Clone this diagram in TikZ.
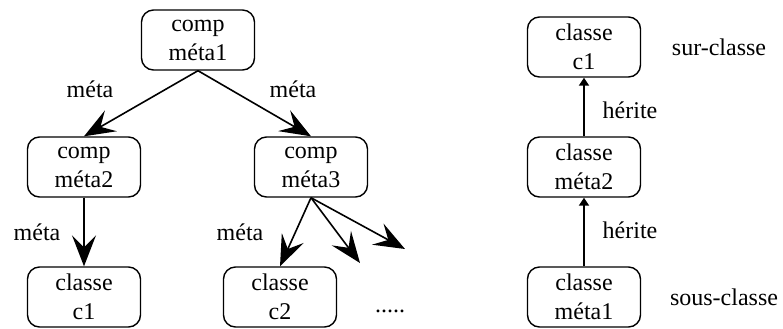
\documentclass[tikz,border=0pt]{standalone}
\usepackage{fontspec}
\setmainfont{Liberation Serif}
\usetikzlibrary{arrows.meta}
\begin{document}
\begin{tikzpicture}[x=0.5pt,y=-0.5pt,
  box/.style={draw,line width=0.7pt,rounded corners=6pt,minimum width=56.5pt,minimum height=30pt,align=center,inner sep=0pt,font=\fontsize{12}{14.5}\selectfont},
  lbl/.style={font=\fontsize{12}{14.5}\selectfont,inner sep=0pt},
  bigarrow/.style={line width=0.8pt,-{Stealth[length=15.5pt,width=12pt,inset=6pt]}},
  smallarrow/.style={line width=1pt,-{Triangle[length=4pt,width=5pt]}}]
\useasboundingbox (0,0) rectangle (783,328);
% left tree
\node[box] (m1) at (198,40) {comp\\méta1};
\node[box] (m2) at (84,167) {comp\\méta2};
\node[box] (m3) at (311,167) {comp\\méta3};
\node[box] (c1) at (84,297) {classe\\c1};
\node[box] (c2) at (280,297) {classe\\c2};
\node[lbl,anchor=base] (dots) at (390,312) {.....};
\coordinate (e2) at (360,263);
\coordinate (e3) at (405,249);
\draw[bigarrow] (m1.south) -- (m2.north);
\draw[bigarrow] (m1.south) -- (m3.north);
\draw[bigarrow] (m2.south) -- (c1.north);
\draw[bigarrow] (m3.south) -- (c2.north);
\draw[bigarrow] (m3.south) -- (e2);
\draw[bigarrow] (m3.south) -- (e3);
\node[lbl] (l1) at (90,89) {méta};
\node[lbl] (l2) at (293,89) {méta};
\node[lbl] (l3) at (37,232) {méta};
\node[lbl] (l4) at (240,232) {méta};
% right chain
\node[box] (r1) at (584,47) {classe\\c1};
\node[box] (r2) at (584,167) {classe\\méta2};
\node[box] (r3) at (584,297) {classe\\méta1};
\draw[smallarrow] (r2.north) -- (r1.south);
\draw[smallarrow] (r3.north) -- (r2.south);
\node[lbl] (h1) at (630,110) {hérite};
\node[lbl] (h2) at (630,230) {hérite};
\node[lbl] (sur) at (719,47) {sur-classe};
\node[lbl] (sous) at (724,297) {sous-classe};
\end{tikzpicture}
\end{document}
